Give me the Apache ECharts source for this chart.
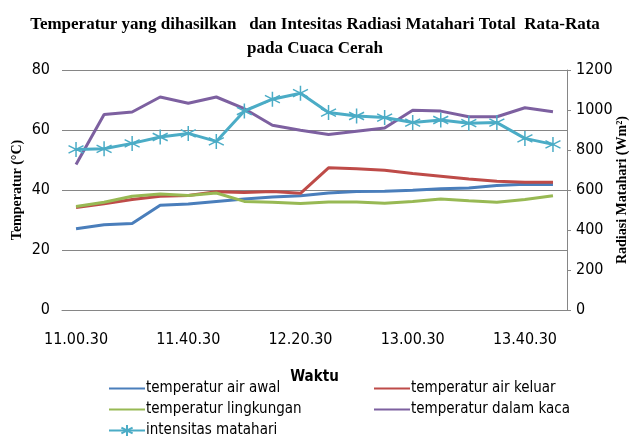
<!DOCTYPE html>
<html>
<head>
<meta charset="utf-8">
<script src="https://cdn.jsdelivr.net/npm/echarts@6/dist/echarts.min.js"></script>
<style>
  html, body { margin: 0; padding: 0; background: #fff; }
  #container { width: 630px; height: 445px; }
</style>
</head>
<body>
<div id="container"></div>
<script>
var dom = document.getElementById("container");
var myChart = echarts.init(dom);
var option;

// waktu pengukuran (tiap 10 menit)
var waktu = ["11.00.30", "11.10.30", "11.20.30", "11.30.30", "11.40.30", "11.50.30",
  "12.00.30", "12.10.30", "12.20.30", "12.30.30", "12.40.30", "12.50.30",
  "13.00.30", "13.10.30", "13.20.30", "13.30.30", "13.40.30", "13.50.30"];

var airAwal = [27.1, 28.4, 28.8, 34.9, 35.3, 36.2, 37.0, 37.7, 38.1, 39.0, 39.5, 39.6, 39.9, 40.4, 40.7, 41.5, 41.9, 41.8];
var airKeluar = [34.2, 35.4, 36.8, 37.9, 38.2, 39.4, 39.2, 39.5, 38.9, 47.4, 47.1, 46.6, 45.5, 44.6, 43.7, 42.9, 42.6, 42.6];
var lingkungan = [34.5, 35.9, 37.9, 38.7, 38.2, 39.0, 36.2, 35.9, 35.5, 36.0, 36.0, 35.6, 36.2, 37.0, 36.4, 35.9, 36.8, 38.1];
var dalamKaca = [48.5, 65.2, 66.0, 71.0, 68.9, 71.0, 67.1, 61.6, 59.9, 58.5, 59.6, 60.7, 66.6, 66.3, 64.4, 64.4, 67.4, 66.1];
var intensitas = [803, 806, 833, 865, 883, 843, 995, 1054, 1084, 987, 970, 962, 937, 950, 934, 937, 858, 828];

var labelFont = "'Liberation Sans Narrow', 'DejaVu Sans Condensed', sans-serif";
var serifFont = "'Liberation Serif', 'DejaVu Serif', serif";

// asterisk marker like the excel star marker
var asterisk = 'path://M0,-10L0,10M-8.66,-5L8.66,5M-8.66,5L8.66,-5';

function lineSeries(name, data, color) {
  return {
    name: name,
    type: "line",
    data: data,
    symbol: "none",
    lineStyle: { color: color, width: 3 },
    itemStyle: { color: color }
  };
}

// legend entry with only the line, no symbol
function lineItem(name) {
  return { name: name, itemStyle: { opacity: 0 } };
}

option = {
  animation: false,
  title: {
    text: "Temperatur yang dihasilkan   dan Intesitas Radiasi Matahari Total  Rata-Rata\npada Cuaca Cerah",
    left: "center",
    top: 8,
    textStyle: {
      fontFamily: serifFont,
      fontWeight: "bold",
      fontSize: 17,
      lineHeight: 24,
      color: "#000"
    }
  },
  grid: { left: 62, right: 63, top: 70, bottom: 135, outerBoundsMode: "none" },
  legend: [
    {
      left: 103, top: 376, orient: "vertical", itemGap: 6,
      itemWidth: 36, itemHeight: 14,
      data: [lineItem("temperatur air awal"), lineItem("temperatur lingkungan"), "intensitas matahari"],
      textStyle: { fontFamily: labelFont, fontSize: 15, color: "#000", padding: [0, 0, 0, -4] }
    },
    {
      left: 368, top: 376, orient: "vertical", itemGap: 6,
      itemWidth: 36, itemHeight: 14,
      data: [lineItem("temperatur air keluar"), lineItem("temperatur dalam kaca")],
      textStyle: { fontFamily: labelFont, fontSize: 15, color: "#000", padding: [0, 0, 0, -4] }
    }
  ],
  xAxis: {
    type: "category",
    data: waktu,
    boundaryGap: true,
    name: "Waktu",
    nameLocation: "middle",
    nameGap: 60,
    nameMoveOverlap: false,
    nameTextStyle: { fontFamily: labelFont, fontWeight: "bold", fontSize: 15, color: "#000" },
    axisLine: { lineStyle: { color: "#868686", width: 1 } },
    axisTick: { show: false },
    axisLabel: { interval: 3, fontFamily: labelFont, fontSize: 16, color: "#000", margin: 22 }
  },
  yAxis: [
    {
      type: "value",
      min: 0, max: 80, interval: 20,
      name: "Temperatur (°C)",
      nameLocation: "middle",
      nameGap: 38,
      nameRotate: 90,
      nameMoveOverlap: false,
      nameTextStyle: { fontFamily: serifFont, fontWeight: "bold", fontSize: 14, color: "#000" },
      axisLine: { show: false },
      axisTick: { show: false },
      axisLabel: { fontFamily: labelFont, fontSize: 16, color: "#000", margin: 12 },
      splitLine: { lineStyle: { color: "#868686", width: 1 } }
    },
    {
      type: "value",
      position: "right",
      min: 0, max: 1200, interval: 200,
      name: "Radiasi Matahari (Wm²)",
      nameLocation: "middle",
      nameGap: 48,
      nameRotate: 90,
      nameMoveOverlap: false,
      nameTextStyle: { fontFamily: serifFont, fontWeight: "bold", fontSize: 14, color: "#000" },
      axisLine: { show: true, lineStyle: { color: "#868686", width: 1 } },
      axisTick: { show: true, inside: false, length: 4, lineStyle: { color: "#868686" } },
      axisLabel: {
        fontFamily: labelFont, fontSize: 16, color: "#000", margin: 9,
        formatter: function (v) { return String(v); }
      },
      splitLine: { show: false }
    }
  ],
  series: [
    lineSeries("temperatur air awal", airAwal, "#4A7EBB"),
    lineSeries("temperatur air keluar", airKeluar, "#BE4B48"),
    lineSeries("temperatur lingkungan", lingkungan, "#98B954"),
    lineSeries("temperatur dalam kaca", dalamKaca, "#7D60A0"),
    {
      name: "intensitas matahari",
      type: "line",
      yAxisIndex: 1,
      data: intensitas,
      symbol: asterisk,
      symbolSize: 15,
      showAllSymbol: true,
      lineStyle: { color: "#4BACC6", width: 3 },
      itemStyle: { color: "#4BACC6", borderColor: "#4BACC6", borderWidth: 1.5 },
      z: 3
    }
  ]
};

myChart.setOption(option, true);
</script>
</body>
</html>
